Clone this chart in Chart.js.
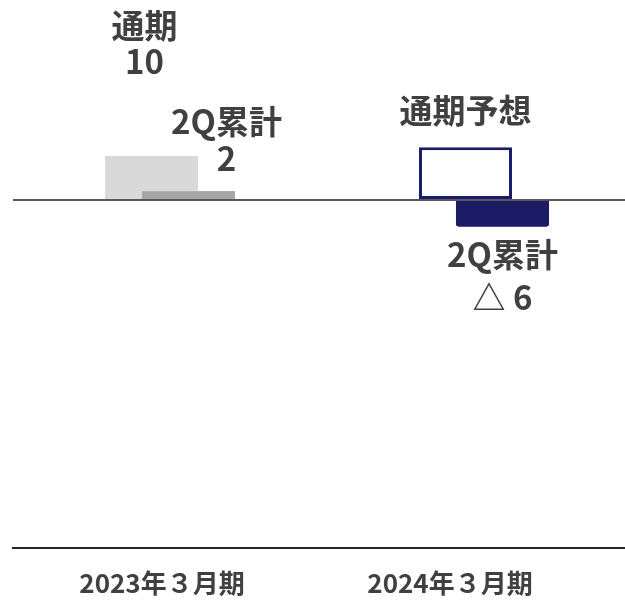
<!DOCTYPE html>
<html lang="ja">
<head>
<meta charset="utf-8">
<script src="https://cdn.jsdelivr.net/npm/chart.js@4/dist/chart.umd.min.js"></script>
<style>
  html, body { margin: 0; padding: 0; background: #fff; overflow: hidden; }
  #wrap { width: 645px; height: 601px; }
</style>
</head>
<body>
<div id="wrap"><canvas id="chart"></canvas></div>
<script>
// chart data
const categories = ['2023年３月期', '2024年３月期'];
const fullYear = [10, 12];          // 通期 (2024 is a forecast)
const firstHalf = [2, -6];          // 2Q累計
const isForecast = [false, true];
const fullYearNames = ['通期', '通期予想'];
const firstHalfNames = ['2Q累計', '2Q累計'];

const textColor = '#404040';
const labelFont = 'bold 33px "Noto Sans CJK JP", "Noto Sans", sans-serif';

// where each value label sits relative to the bar end (dx, dy of each line)
const labelPlace = [
  [{ dx: -7, dy: [-131, -95] }, { dx: 0, dy: [-37] }],
  [{ dx: 38, dy: [-70, -33] }, { dx: 0, dy: [28, 71] }]
];

function formatValue(v) {
  return v < 0 ? '△ ' + Math.abs(v) : String(v);
}

function labelLines(di, i) {
  if (di === 0) {
    return isForecast[i] ? [fullYearNames[i]] : [fullYearNames[i], formatValue(fullYear[i])];
  }
  return [firstHalfNames[i], formatValue(firstHalf[i])];
}

const barLabels = {
  id: 'barLabels',
  afterDatasetsDraw(chart) {
    // 2Q bars sit on top of the full year bars
    chart.getDatasetMeta(1).controller.draw();

    const ctx = chart.ctx;
    ctx.save();
    ctx.font = labelFont;
    ctx.fillStyle = textColor;
    ctx.textAlign = 'center';
    ctx.textBaseline = 'middle';
    chart.data.datasets.forEach((ds, di) => {
      chart.getDatasetMeta(di).data.forEach((bar, i) => {
        const lines = labelLines(di, i);
        const place = labelPlace[di][i];
        lines.forEach((txt, k) => {
          ctx.fillText(txt, bar.x + place.dx, bar.y + place.dy[k]);
        });
      });
    });
    ctx.restore();
  }
};

new Chart(document.getElementById('chart'), {
  type: 'bar',
  data: {
    labels: categories,
    datasets: [
      {
        label: '通期',
        data: fullYear,
        backgroundColor: isForecast.map(f => f ? '#ffffff' : '#d9d9d9'),
        borderColor: isForecast.map(f => f ? '#1b1b6b' : '#d9d9d9'),
        borderWidth: isForecast.map(f => f ? 3 : 0),
        borderSkipped: false,
        categoryPercentage: 0.2357,
        barPercentage: 2.514
      },
      {
        label: '2Q累計',
        data: firstHalf,
        backgroundColor: isForecast.map(f => f ? '#1b1b66' : '#a6a6a6'),
        borderWidth: 0,
        borderRadius: isForecast.map(f => f ? 3 : 0),
        categoryPercentage: 0.2357,
        barPercentage: 2.514
      }
    ]
  },
  options: {
    responsive: true,
    maintainAspectRatio: false,
    animation: false,
    layout: { padding: { left: 13, right: 4, top: 2, bottom: -18 } },
    plugins: {
      legend: { display: false },
      tooltip: { enabled: false }
    },
    scales: {
      x: {
        grid: { display: false, drawTicks: false },
        border: { display: true, color: '#262626', width: 2 },
        ticks: {
          color: textColor,
          font: { family: '"Noto Sans CJK JP", "Noto Sans", sans-serif', size: 26, weight: 'bold' },
          padding: 20,
          labelOffset: -8,
          maxRotation: 0,
          callback: (v, i) => i === 1 ? categories[i] + '\u3000\u3000' : categories[i]
        }
      },
      y: {
        min: -79,
        max: 45,
        border: { display: false },
        grid: {
          drawTicks: false,
          lineWidth: 2,
          color: c => c.tick && c.tick.value === 0 ? '#595959' : 'transparent'
        },
        ticks: { display: false, stepSize: 1 }
      }
    }
  },
  plugins: [barLabels]
});
</script>
</body>
</html>
